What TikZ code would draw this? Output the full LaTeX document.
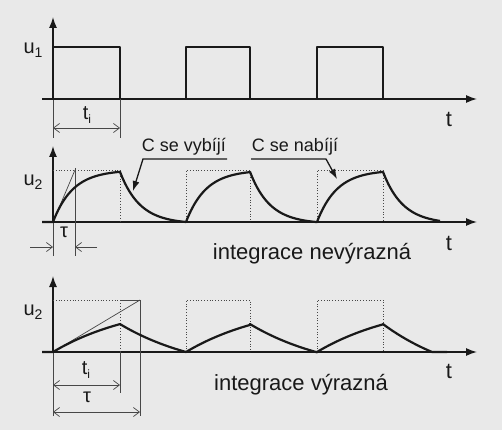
\documentclass[tikz,border=0pt]{standalone}
\usepackage{fontspec}
\setmainfont{Liberation Sans}
\usetikzlibrary{arrows.meta}
\definecolor{paper}{RGB}{233,233,233}
\definecolor{ink}{RGB}{25,25,25}
\newcommand{\fsz}[1]{\fontsize{#1}{#1}\selectfont}
\begin{document}
\begin{tikzpicture}[x=1pt,y=-1pt,
  axis/.style={line width=1.4pt,draw=ink,-{Latex[length=11pt,width=8pt]}},
  signal/.style={line width=2.2pt,draw=ink,line join=round},
  thinline/.style={line width=0.7pt,draw=ink!80},
  dots/.style={line width=0.8pt,draw=ink!80,dotted},
  dim/.style={line width=0.7pt,draw=ink!80,-{Straight Barb[length=6pt,width=9pt]}},
  leader/.style={line width=1.3pt,draw=ink,-{Latex[length=10pt,width=7pt]}},
  lbl/.style={inner sep=0pt,text=ink,font=\fsz{20}},
  big/.style={inner sep=0pt,text=ink,font=\fsz{22}}]
\fill[paper] (0,0) rectangle (502,430);
\useasboundingbox (0,0) rectangle (502,430);

% ---------- panel 1 ----------
\coordinate (a1t) at (53,17);  \coordinate (a1b) at (53,138);
\coordinate (h1l) at (42,99);  \coordinate (h1r) at (477,99);
\draw[thinline] (a1b) -- (53,99);
\draw[axis] (53,99) -- (a1t);
\draw[axis] (h1l) -- (h1r);
\draw[signal] (42,99) -- (53,99) -- (53,47) -- (120,47) -- (120,99) -- (186,99) -- (186,47)
  -- (250,47) -- (250,99) -- (317,99) -- (317,47) -- (383,47) -- (383,99) -- (422,99);
\coordinate (e1t) at (120,99); \coordinate (e1b) at (120,138);
\draw[thinline] (e1t) -- (e1b);
\coordinate (d1l) at (53,128); \coordinate (d1r) at (120,128);
\draw[dim] (86,128) -- (d1l);
\draw[dim] (86,128) -- (d1r);
\node[lbl] (u1) at (33,50) {u\raisebox{-0.35ex}{\fsz{14}1}};
\node[big] (t1) at (449,119) {t};
\node[lbl] (ti1) at (87,115) {t\raisebox{-0.35ex}{\fsz{12}i}};

% ---------- panel 2 ----------
\coordinate (a2t) at (53,146);  \coordinate (a2b) at (53,256);
\coordinate (h2l) at (42,222);  \coordinate (h2r) at (477,222);
\draw[thinline] (a2b) -- (53,222);
\draw[axis] (53,222) -- (a2t);
\draw[axis] (h2l) -- (h2r);
% dotted input pulses
\draw[dots] (53,170) -- (120,170) -- (120,222);
\draw[dots] (186,222) -- (186,170) -- (250,170) -- (250,222);
\draw[dots] (317,222) -- (317,170) -- (383,170) -- (383,222);
% tau construction
\draw[thinline] (53,222) -- (75,170);
\draw[thinline] (75,168) -- (75,256);
\coordinate (tl) at (53,247); \coordinate (tr) at (75,247);
\draw[dim] (30,247) -- (tl);
\draw[dim] (97,247) -- (tr);
\node[lbl] (tau1) at (64,232) {τ};
% response
\def\A{52}\def\ta{20}
\pgfmathsetmacro{\P}{\A*(1-exp(-67/\ta))}
\pgfmathsetmacro{\E}{exp(-66/\ta)}
\draw[signal] (42,222) -- (53,222)
  plot[domain=0:67,samples=40] ({53+\x},{222-\A*(1-exp(-\x/\ta))})
  -- plot[domain=0:66,samples=40] ({120+\x},{222-\P*(exp(-\x/\ta)-\E)/(1-\E)})
  -- plot[domain=0:64,samples=40] ({186+\x},{222-\A*(1-exp(-\x/\ta))})
  -- plot[domain=0:67,samples=40] ({250+\x},{222-\P*(exp(-\x/\ta)-\E)/(1-\E)})
  -- plot[domain=0:66,samples=40] ({317+\x},{222-\A*(1-exp(-\x/\ta))})
  -- plot[domain=0:57,samples=40] ({383+\x},{222-\P*(exp(-\x/\ta)-\E)/(1-\E)});
\node[lbl,font=\fsz{18}] (vyb) at (184,147) {C se vybíjí};
\coordinate (vybtip) at (133,191);
\draw[leader] (227,159) -- (143,159) -- (vybtip);
\node[lbl,font=\fsz{18}] (nab) at (295,147) {C se nabíjí};
\coordinate (nabtip) at (337,179);
\draw[leader] (251,159) -- (326,159) -- (nabtip);
\node[big] (t2) at (449,243) {t};
\node[big] (int1) at (312,254) {integrace nevýrazná};

% ---------- panel 3 ----------
\coordinate (a3t) at (53,276);  \coordinate (a3b) at (53,416);
\coordinate (h3l) at (42,352);  \coordinate (h3r) at (477,352);
\draw[thinline] (a3b) -- (53,352);
\draw[axis] (53,352) -- (a3t);
\draw[axis] (h3l) -- (h3r);
\draw[dots] (53,300) -- (120,300) -- (120,352);
\draw[dots] (186,352) -- (186,300) -- (250,300) -- (250,352);
\draw[dots] (317,352) -- (317,300) -- (383,300) -- (383,352);
\draw[thinline] (120,300) -- (140,300);
\draw[thinline] (140,300) -- (140,416);
\draw[thinline] (120,352) -- (120,393);
\draw[thinline] (53,352) -- (140,300);
\def\B{52}\def\tb{87}
\pgfmathsetmacro{\Q}{\B*(1-exp(-67/\tb))}
\pgfmathsetmacro{\F}{exp(-66/\tb)}
\pgfmathsetmacro{\G}{exp(-49/\tb)}
\draw[signal] (42,352) -- (53,352)
  plot[domain=0:67,samples=30] ({53+\x},{352-\B*(1-exp(-\x/\tb))})
  -- plot[domain=0:66,samples=30] ({120+\x},{352-\Q*(exp(-\x/\tb)-\F)/(1-\F)})
  -- plot[domain=0:64,samples=30] ({186+\x},{352-\B*(1-exp(-\x/\tb))})
  -- plot[domain=0:67,samples=30] ({250+\x},{352-\Q*(exp(-\x/\tb)-\F)/(1-\F)})
  -- plot[domain=0:66,samples=30] ({317+\x},{352-\B*(1-exp(-\x/\tb))})
  -- plot[domain=0:49,samples=30] ({383+\x},{352-\Q*(exp(-\x/\tb)-\G)/(1-\G)})
  -- (447,352);
\coordinate (d3l) at (53,385); \coordinate (d3r) at (120,385);
\draw[dim] (86,385) -- (d3l);
\draw[dim] (86,385) -- (d3r);
\coordinate (d4l) at (53,412); \coordinate (d4r) at (140,412);
\draw[dim] (96,412) -- (d4l);
\draw[dim] (96,412) -- (d4r);
\node[lbl] (u2b) at (33,312) {u\raisebox{-0.35ex}{\fsz{14}2}};
\node[lbl] (ti3) at (86,370) {t\raisebox{-0.35ex}{\fsz{12}i}};
\node[lbl] (tau2) at (87,397) {τ};
\node[big] (t3) at (449,371) {t};
\node[big] (int2) at (301,385) {integrace výrazná};
\node[lbl] (u2a) at (33,182) {u\raisebox{-0.35ex}{\fsz{14}2}};
\end{tikzpicture}
\end{document}
